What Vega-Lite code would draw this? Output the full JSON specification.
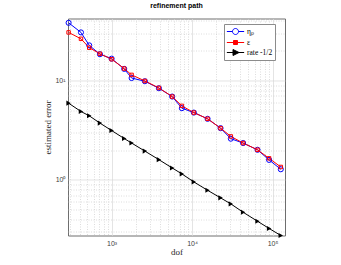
{
  "$schema": "https://vega.github.io/schema/vega-lite/v6.json",
  "width": 217,
  "height": 217,
  "autosize": {"type": "none"},
  "padding": {"left": 68, "top": 18.5, "right": 56, "bottom": 29.5},
  "background": "white",
  "title": {"text": "refinement path", "font": "Liberation Sans", "fontSize": 7, "fontWeight": "bold", "color": "#000000", "offset": 2, "baseline": "alphabetic", "anchor": "middle"},
  "config": {"view": {"stroke": "#6e6e6e", "strokeWidth": 1}},
  "data": {"values": [
    {"dof": 292, "err": 38.1, "series": "ηₚ"},
    {"dof": 416, "err": 30.5, "series": "ηₚ"},
    {"dof": 527, "err": 22.6, "series": "ηₚ"},
    {"dof": 716, "err": 18.4, "series": "ηₚ"},
    {"dof": 1000, "err": 16.6, "series": "ηₚ"},
    {"dof": 1434, "err": 13.1, "series": "ηₚ"},
    {"dof": 1772, "err": 10.6, "series": "ηₚ"},
    {"dof": 2592, "err": 9.84, "series": "ηₚ"},
    {"dof": 3870, "err": 8.37, "series": "ηₚ"},
    {"dof": 5660, "err": 6.90, "series": "ηₚ"},
    {"dof": 7470, "err": 5.27, "series": "ηₚ"},
    {"dof": 10520, "err": 4.76, "series": "ηₚ"},
    {"dof": 15590, "err": 4.12, "series": "ηₚ"},
    {"dof": 22600, "err": 3.32, "series": "ηₚ"},
    {"dof": 30340, "err": 2.60, "series": "ηₚ"},
    {"dof": 43130, "err": 2.35, "series": "ηₚ"},
    {"dof": 65100, "err": 2.01, "series": "ηₚ"},
    {"dof": 90700, "err": 1.59, "series": "ηₚ"},
    {"dof": 126800, "err": 1.28, "series": "ηₚ"},
    {"dof": 292, "err": 30.5, "series": "ε"},
    {"dof": 416, "err": 26.3, "series": "ε"},
    {"dof": 527, "err": 21.4, "series": "ε"},
    {"dof": 716, "err": 18.6, "series": "ε"},
    {"dof": 1000, "err": 16.4, "series": "ε"},
    {"dof": 1434, "err": 13.2, "series": "ε"},
    {"dof": 1772, "err": 11.4, "series": "ε"},
    {"dof": 2592, "err": 9.91, "series": "ε"},
    {"dof": 3870, "err": 8.43, "series": "ε"},
    {"dof": 5660, "err": 6.90, "series": "ε"},
    {"dof": 7470, "err": 5.56, "series": "ε"},
    {"dof": 10520, "err": 4.76, "series": "ε"},
    {"dof": 15590, "err": 4.12, "series": "ε"},
    {"dof": 22600, "err": 3.32, "series": "ε"},
    {"dof": 30340, "err": 2.74, "series": "ε"},
    {"dof": 43130, "err": 2.35, "series": "ε"},
    {"dof": 65100, "err": 2.01, "series": "ε"},
    {"dof": 90700, "err": 1.65, "series": "ε"},
    {"dof": 126800, "err": 1.35, "series": "ε"},
    {"dof": 292, "err": 5.92, "series": "rate -1/2"},
    {"dof": 416, "err": 4.88, "series": "rate -1/2"},
    {"dof": 527, "err": 4.42, "series": "rate -1/2"},
    {"dof": 716, "err": 3.73, "series": "rate -1/2"},
    {"dof": 1000, "err": 3.14, "series": "rate -1/2"},
    {"dof": 1434, "err": 2.61, "series": "rate -1/2"},
    {"dof": 1772, "err": 2.35, "series": "rate -1/2"},
    {"dof": 2592, "err": 1.95, "series": "rate -1/2"},
    {"dof": 3870, "err": 1.60, "series": "rate -1/2"},
    {"dof": 5660, "err": 1.32, "series": "rate -1/2"},
    {"dof": 7470, "err": 1.15, "series": "rate -1/2"},
    {"dof": 10520, "err": 0.955, "series": "rate -1/2"},
    {"dof": 15590, "err": 0.787, "series": "rate -1/2"},
    {"dof": 22600, "err": 0.660, "series": "rate -1/2"},
    {"dof": 30340, "err": 0.574, "series": "rate -1/2"},
    {"dof": 43130, "err": 0.473, "series": "rate -1/2"},
    {"dof": 65100, "err": 0.384, "series": "rate -1/2"},
    {"dof": 90700, "err": 0.325, "series": "rate -1/2"},
    {"dof": 126800, "err": 0.276, "series": "rate -1/2"}
  ]},
  "encoding": {
    "x": {
      "field": "dof", "type": "quantitative",
      "scale": {"type": "log", "domain": [287, 143000], "nice": false},
      "axis": {
        "values": [300, 400, 500, 600, 700, 800, 900, 1000, 2000, 3000, 4000, 5000, 6000, 7000, 8000, 9000, 10000, 20000, 30000, 40000, 50000, 60000, 70000, 80000, 90000, 100000],
        "labelExpr": "datum.value == 1000 ? '10³' : datum.value == 10000 ? '10⁴' : datum.value == 100000 ? '10⁵' : ''",
        "title": "dof", "titleFont": "Liberation Serif", "titleFontSize": 9, "titleFontWeight": "normal", "titleColor": "#262626", "titlePadding": 1,
        "labelFont": "Liberation Sans", "labelFontSize": 7, "labelColor": "#404040", "labelPadding": 4, "labelOverlap": false, "labelFlush": false,
        "ticks": false, "domain": false, "grid": true,
        "gridColor": {"condition": {"test": "indexof([1000,10000,100000], datum.value) >= 0", "value": "#d8d8d8"}, "value": "#cfcfcf"},
        "gridDash": {"condition": {"test": "indexof([1000,10000,100000], datum.value) >= 0", "value": []}, "value": [1, 1.5]},
        "gridWidth": 0.7
      }
    },
    "y": {
      "field": "err", "type": "quantitative",
      "scale": {"type": "log", "domain": [0.276, 42.1], "nice": false},
      "axis": {
        "values": [0.3, 0.4, 0.5, 0.6, 0.7, 0.8, 0.9, 1, 2, 3, 4, 5, 6, 7, 8, 9, 10, 20, 30, 40],
        "labelExpr": "datum.value == 1 ? '10⁰' : datum.value == 10 ? '10¹' : ''",
        "title": "estimated error", "titleFont": "Liberation Serif", "titleFontSize": 9, "titleFontWeight": "normal", "titleColor": "#262626", "titlePadding": 2,
        "labelFont": "Liberation Sans", "labelFontSize": 7, "labelColor": "#404040", "labelPadding": 3, "labelOverlap": false, "labelFlush": false,
        "ticks": false, "domain": false, "grid": true,
        "gridColor": {"condition": {"test": "indexof([1,10], datum.value) >= 0", "value": "#d8d8d8"}, "value": "#cfcfcf"},
        "gridDash": {"condition": {"test": "indexof([1,10], datum.value) >= 0", "value": []}, "value": [1, 1.5]},
        "gridWidth": 0.7
      }
    }
  },
  "layer": [
    {
      "mark": {"type": "line", "strokeWidth": 1},
      "encoding": {
        "color": {
          "field": "series", "type": "nominal",
          "scale": {"domain": ["ηₚ", "ε", "rate -1/2"], "range": ["#0000ff", "#ff0000", "#000000"]},
          "legend": {
            "title": null, "orient": "none", "legendX": 156, "legendY": 5.5,
            "fillColor": "white", "strokeColor": "#8c8c8c", "padding": 2,
            "symbolSize": 100, "symbolOffset": 4, "labelOffset": 6, "rowPadding": -0.3, "symbolStrokeWidth": 1,
            "symbolType": {"expr": "datum.value === 'ηₚ' ? 'M-1.73,0H-0.6M0.6,0H1.73M-0.6,0A0.6,0.6 0 1,0 0.6,0A0.6,0.6 0 1,0 -0.6,0' : datum.value === 'ε' ? 'M-1.73,0H1.73M-0.4,-0.4H0.4V0.4H-0.4Z' : 'M-1.73,0H1.73M-0.5,-0.6L0.7,0L-0.5,0.6Z'"},
            "symbolFillColor": {"expr": "datum.value === 'ηₚ' ? 'transparent' : datum.value === 'ε' ? '#ff0000' : '#000000'"},
            "labelFont": "Liberation Serif", "labelFontSize": 7.5, "labelColor": "#000000"
          }
        }
      }
    },
    {
      "transform": [{"filter": "datum.series === 'ηₚ'"}],
      "mark": {"type": "point", "shape": "circle", "filled": false, "strokeWidth": 1, "opacity": 1, "size": 26, "color": "#0000ff"}
    },
    {
      "transform": [{"filter": "datum.series === 'ε'"}],
      "mark": {"type": "point", "shape": "square", "filled": false, "strokeWidth": 1, "opacity": 1, "size": 12, "color": "#ff0000"}
    },
    {
      "transform": [{"filter": "datum.series === 'rate -1/2'"}],
      "mark": {"type": "point", "shape": "triangle-right", "filled": true, "opacity": 1, "size": 26, "color": "#000000"}
    }
  ]
}
